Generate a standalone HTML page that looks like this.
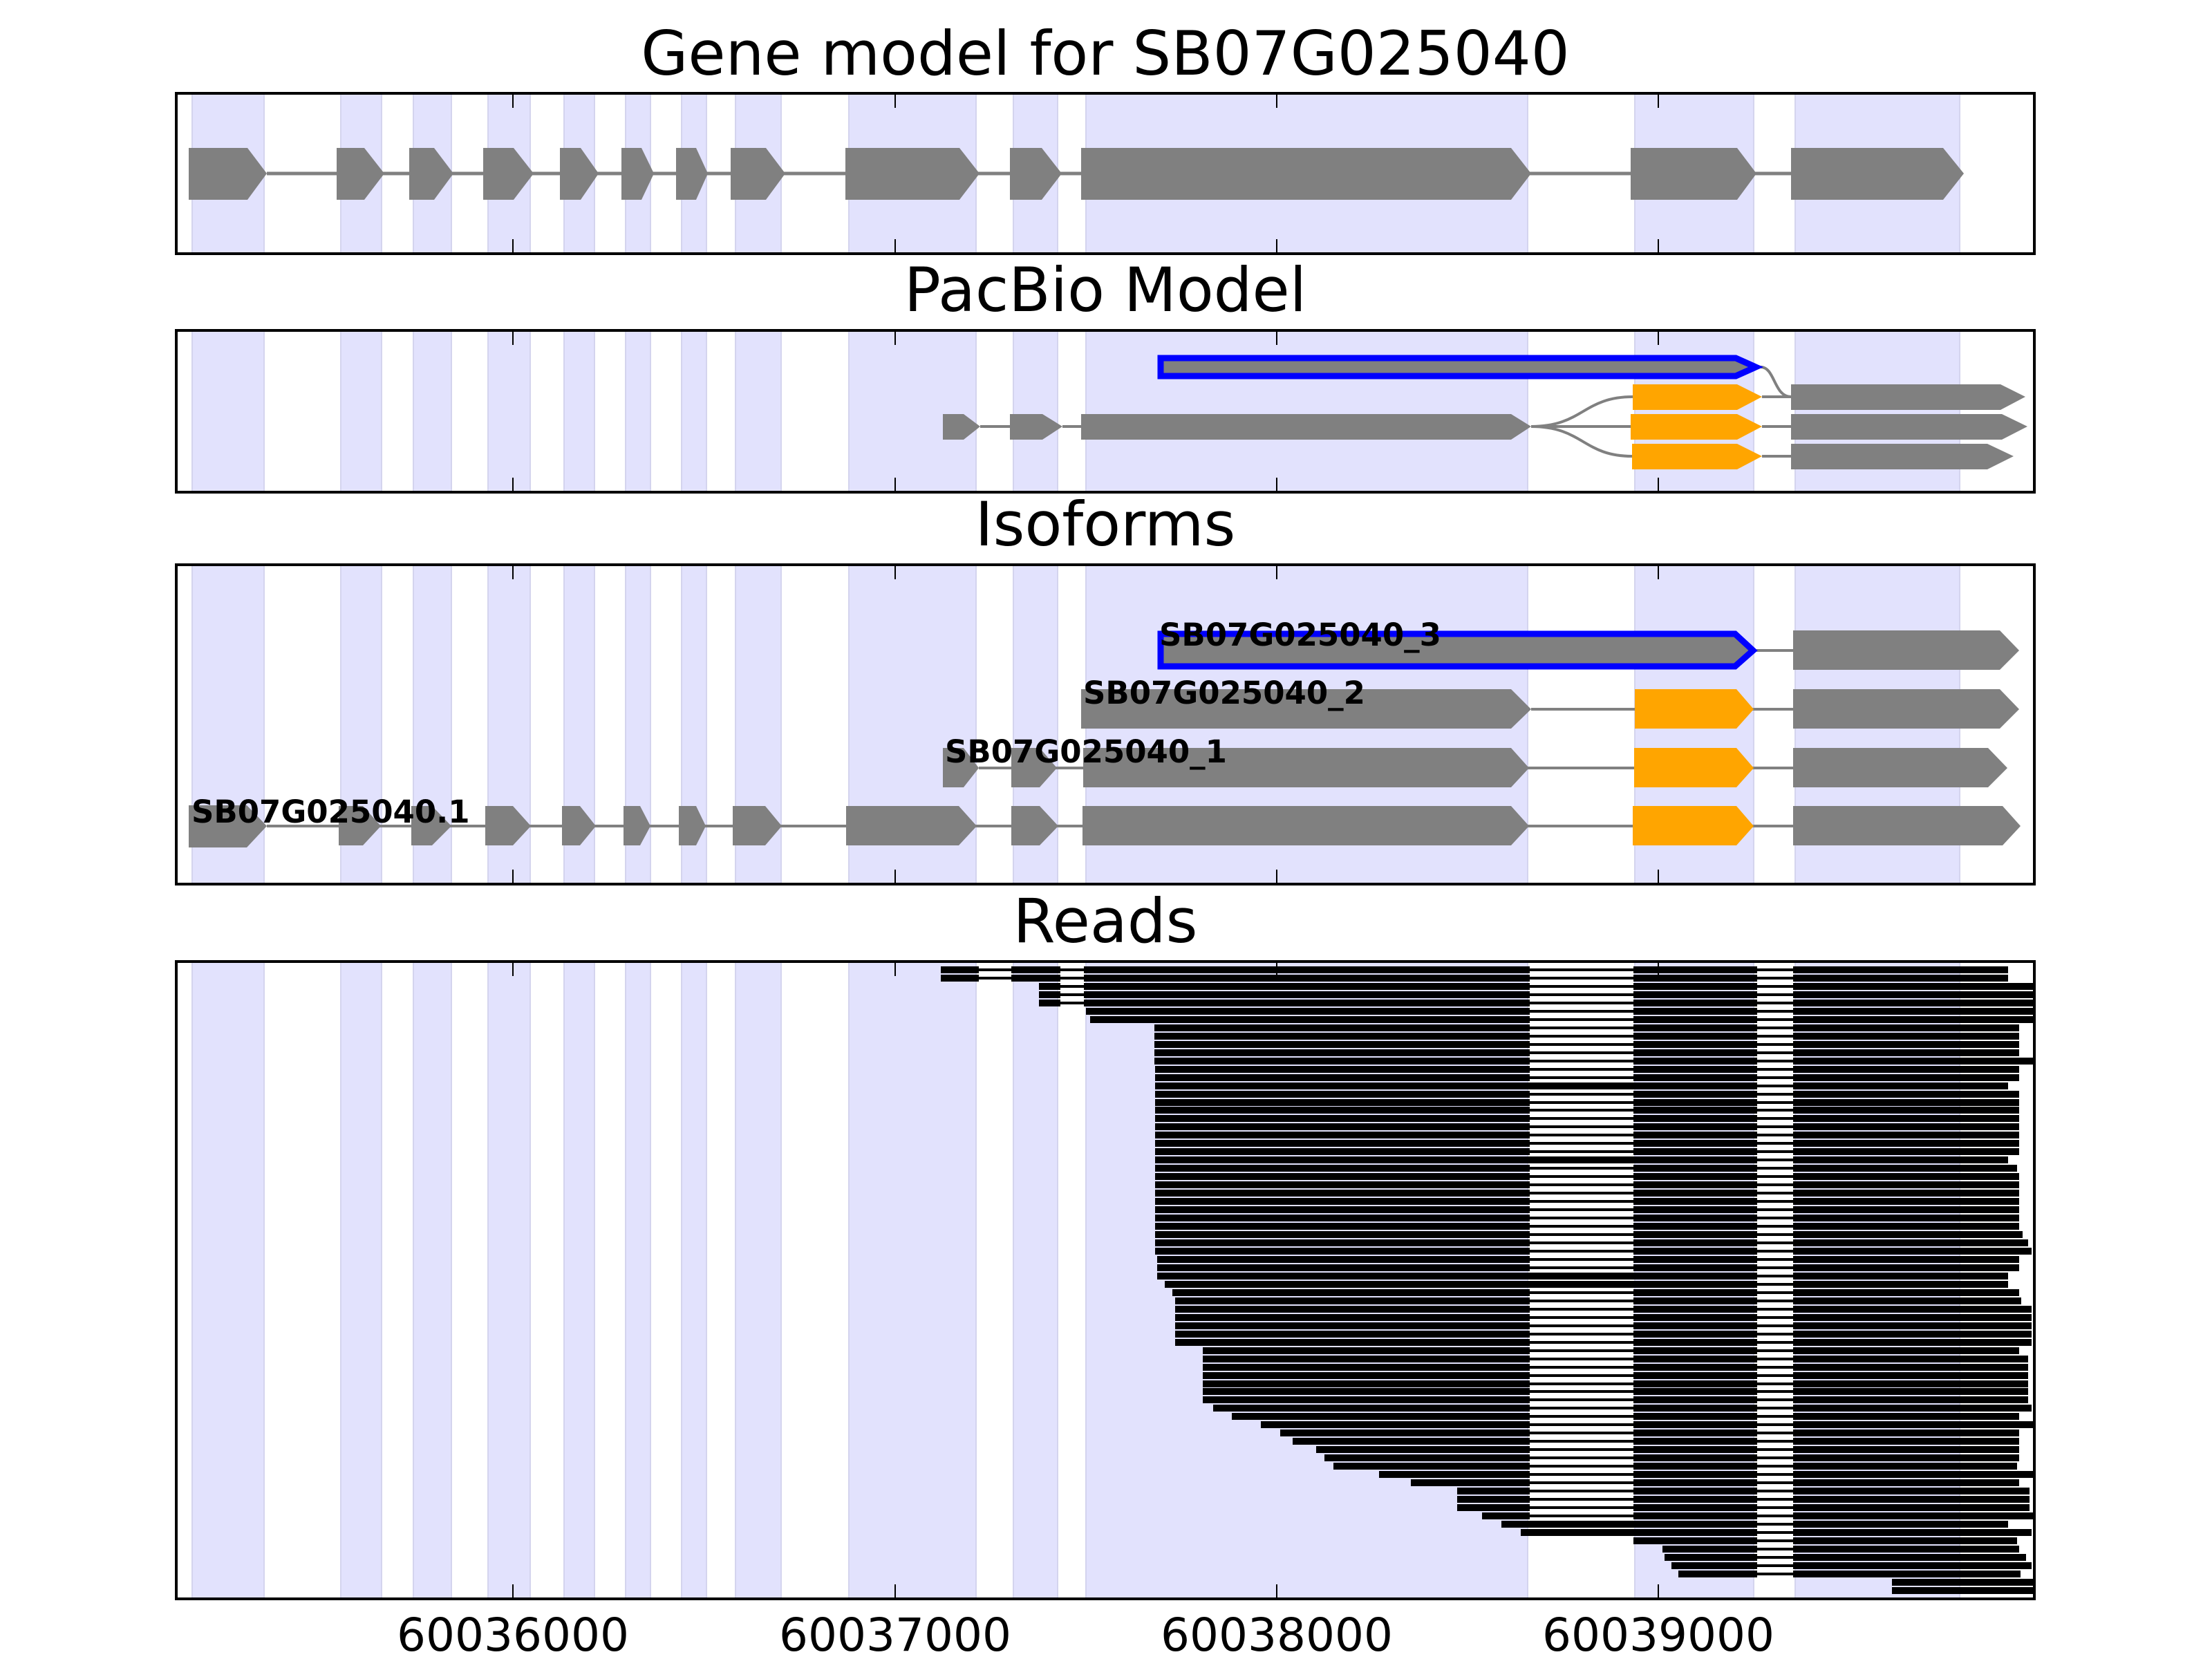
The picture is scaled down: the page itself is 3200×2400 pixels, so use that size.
<!DOCTYPE html>
<html><head><meta charset="utf-8"><style>html,body{margin:0;padding:0;background:#fff}svg{display:block}</style></head>
<body>
<svg width="3200" height="2400" viewBox="0 0 3200 2400" xmlns="http://www.w3.org/2000/svg">
<defs>
<g id="bands" fill="#e2e2fd" stroke="#d4d4ee" stroke-width="2">
<rect x="278" y="0" width="104" height="1000"/><rect x="493" y="0" width="59" height="1000"/>
<rect x="598" y="0" width="55" height="1000"/><rect x="706" y="0" width="61" height="1000"/>
<rect x="816" y="0" width="44" height="1000"/><rect x="905" y="0" width="36" height="1000"/>
<rect x="986" y="0" width="36" height="1000"/><rect x="1064" y="0" width="66" height="1000"/>
<rect x="1228" y="0" width="184" height="1000"/><rect x="1466" y="0" width="64" height="1000"/>
<rect x="1571" y="0" width="639" height="1000"/><rect x="2365" y="0" width="172" height="1000"/>
<rect x="2597" y="0" width="238" height="1000"/>
</g>
<g id="ticks" stroke="#000" stroke-width="2">
<path d="M742 0v21M1295 0v21M1847 0v21M2399 0v21"/>
</g>
<clipPath id="c1"><rect x="255" y="135" width="2688" height="232"/></clipPath>
<clipPath id="c2"><rect x="255" y="482" width="2688" height="234"/></clipPath>
<clipPath id="c3"><rect x="255" y="817" width="2688" height="462"/></clipPath>
<clipPath id="c4"><rect x="255" y="1391" width="2688" height="922"/></clipPath>
</defs>

<g font-family="'DejaVu Sans','Liberation Sans',sans-serif" font-size="88" text-anchor="middle" fill="#000">
<text x="1599" y="108">Gene model for SB07G025040</text>
<text x="1599" y="450">PacBio Model</text>
<text x="1599" y="789">Isoforms</text>
<text x="1599" y="1363">Reads</text>
</g>

<!-- Panel 1 -->
<g clip-path="url(#c1)">
<g transform="translate(0,135) scale(1,0.232)"><use href="#bands"/></g>
<path d="M386 251H2591" stroke="#808080" stroke-width="5"/>
<g fill="#808080">
<path d="M273 214H358L386 251L358 289H273Z"/>
<path d="M487 214H527L556 251L527 289H487Z"/>
<path d="M592 214H628L656 251L628 289H592Z"/>
<path d="M699 214H743L772 251L743 289H699Z"/>
<path d="M810 214H840L866 251L840 289H810Z"/>
<path d="M899 214H928L946 251L928 289H899Z"/>
<path d="M978 214H1007L1024 251L1007 289H978Z"/>
<path d="M1057 214H1108L1136 251L1108 289H1057Z"/>
<path d="M1223 214H1388L1417 251L1388 289H1223Z"/>
<path d="M1461 214H1507L1536 251L1507 289H1461Z"/>
<path d="M1564 214H2186L2215 251L2186 289H1564Z"/>
<path d="M2359 214H2513L2541 251L2513 289H2359Z"/>
<path d="M2591 214H2811L2841 251L2811 289H2591Z"/>
</g>
<g transform="translate(0,135)"><use href="#ticks"/></g>
<g transform="translate(0,367) scale(1,-1)"><use href="#ticks"/></g>
</g>
<rect x="255" y="135" width="2688" height="232" fill="none" stroke="#000" stroke-width="4"/>

<!-- Panel 2 -->
<g transform="translate(0,-4)">
<g clip-path="url(#c2)">
<g transform="translate(0,482) scale(1,0.234)"><use href="#bands"/></g>
<g fill="none" stroke="#808080" stroke-width="4">
<path d="M1418 621H1461M1537 621H1564M2215 621H2359"/>
<path d="M2215 621C2290 621 2290 578 2362 578"/>
<path d="M2215 621C2290 621 2290 664 2361 664"/>
<path d="M2547 535C2568 535 2566 578 2591 578"/>
<path d="M2549 578H2591M2549 621H2591M2549 664H2591"/>
</g>
<g fill="#808080">
<path d="M1364 603H1394L1418 621L1394 640H1364Z"/>
<path d="M1461 603H1508L1537 621L1508 640H1461Z"/>
<path d="M1564 603H2186L2215 621L2186 640H1564Z"/>
<path d="M2591 560H2894L2930 578L2894 597H2591Z"/>
<path d="M2591 603H2896L2933 621L2896 640H2591Z"/>
<path d="M2591 646H2875L2913 664L2875 683H2591Z"/>
</g>
<g fill="#ffa500">
<path d="M2362 560H2513L2549 578L2513 597H2362Z"/>
<path d="M2359 603H2513L2549 621L2513 640H2359Z"/>
<path d="M2361 646H2513L2549 664L2513 683H2361Z"/>
</g>
<path d="M1679 522H2511L2540 535L2511 548H1679Z" fill="#808080" stroke="#0000ff" stroke-width="9"/>
<g transform="translate(0,482)"><use href="#ticks"/></g>
<g transform="translate(0,716) scale(1,-1)"><use href="#ticks"/></g>
</g>
<rect x="255" y="482" width="2688" height="234" fill="none" stroke="#000" stroke-width="4"/>
</g>

<!-- Panel 3 -->
<g clip-path="url(#c3)">
<g transform="translate(0,817) scale(1,0.462)"><use href="#bands"/></g>
<g stroke="#808080" stroke-width="4">
<path d="M386 1195H2594M1416 1111H2594M2215 1026H2594M2541 941H2594"/>
</g>
<g fill="#808080">
<path d="M273 1165H357L386 1195L357 1226H273Z"/>
<path d="M490 1166H525L551 1195L525 1223H490Z"/>
<path d="M595 1166H625L653 1195L625 1223H595Z"/>
<path d="M702 1166H742L768 1195L742 1223H702Z"/>
<path d="M813 1166H839L862 1195L839 1223H813Z"/>
<path d="M902 1166H926L941 1195L926 1223H902Z"/>
<path d="M982 1166H1007L1021 1195L1007 1223H982Z"/>
<path d="M1060 1166H1107L1131 1195L1107 1223H1060Z"/>
<path d="M1224 1166H1387L1413 1195L1387 1223H1224Z"/>
<path d="M1463 1166H1504L1531 1195L1504 1223H1463Z"/>
<path d="M1566 1166H2186L2212 1195L2186 1223H1566Z"/>
<path d="M2594 1166H2897L2923 1195L2897 1223H2594Z"/>
<path d="M1364 1082H1394L1416 1111L1394 1139H1364Z"/>
<path d="M1463 1082H1504L1529 1111L1504 1139H1463Z"/>
<path d="M1567 1082H2186L2212 1111L2186 1139H1567Z"/>
<path d="M2594 1082H2876L2904 1111L2876 1139H2594Z"/>
<path d="M1564 997H2186L2215 1026L2186 1054H1564Z"/>
<path d="M2594 997H2893L2921 1026L2893 1054H2594Z"/>
<path d="M2594 912H2893L2921 941L2893 969H2594Z"/>
</g>
<g fill="#ffa500">
<path d="M2362 1166H2512L2537 1195L2512 1223H2362Z"/>
<path d="M2364 1082H2512L2537 1111L2512 1139H2364Z"/>
<path d="M2365 997H2512L2537 1026L2512 1054H2365Z"/>
</g>
<path d="M1679 917H2510L2536 941L2510 964H1679Z" fill="#808080" stroke="#0000ff" stroke-width="9"/>
<g font-family="'DejaVu Sans','Liberation Sans',sans-serif" font-weight="bold" font-size="45" fill="#000">
<text x="277" y="1190">SB07G025040.1</text>
<text x="1367" y="1103">SB07G025040_1</text>
<text x="1567" y="1018">SB07G025040_2</text>
<text x="1677" y="934">SB07G025040_3</text>
</g>
<g transform="translate(0,817)"><use href="#ticks"/></g>
<g transform="translate(0,1279) scale(1,-1)"><use href="#ticks"/></g>
</g>
<rect x="255" y="817" width="2688" height="462" fill="none" stroke="#000" stroke-width="4"/>

<!-- Panel 4 Reads -->
<g clip-path="url(#c4)">
<g transform="translate(0,1391) scale(1,0.922)"><use href="#bands"/></g>
<path fill="none" stroke="#000" stroke-width="4" d="
M1361 1403H2905M1361 1415H2905M1503 1427H2942M1503 1439H2942M1503 1451H2942M1571 1463H2942M1577 1475H2942
M1670 1487H2921M1670 1499H2921M1670 1511H2921M1670 1523H2921M1670 1535H2942M1671 1547H2921M1671 1559H2921
M1671 1583H2921M1671 1595H2921M1671 1606H2921M1671 1618H2921M1671 1630H2921M1671 1642H2921M1671 1654H2921M1671 1666H2921
M1671 1690H2918M1671 1702H2921M1671 1714H2921M1671 1726H2921M1671 1738H2921M1671 1750H2921M1671 1762H2921M1671 1774H2921
M1671 1786H2926M1671 1798H2934M1671 1810H2939M1674 1822H2921M1674 1834H2921
M1696 1870H2921M1700 1882H2924M1700 1894H2939M1700 1906H2939M1700 1918H2939M1700 1930H2939M1700 1942H2939
M1740 1954H2921M1740 1966H2934M1740 1978H2934M1740 1990H2934M1740 2002H2934M1740 2013H2934M1740 2025H2934
M1755 2037H2939M1782 2049H2921M1824 2061H2942M1852 2073H2921M1870 2085H2921M1904 2097H2921M1916 2109H2921M1929 2121H2918
M1995 2133H2942M2041 2145H2921M2108 2157H2936M2108 2169H2936M2108 2181H2936M2144 2193H2942
M2363 2229H2918M2405 2241H2921M2408 2253H2931M2418 2265H2939M2428 2277H2923
M1671 1571H2905M1671 1678H2905M1674 1846H2905M1685 1858H2905M2172 2205H2905M2200 2217H2939"/>
<path fill="none" stroke="#000" stroke-width="10" d="
M1361 1403H1416M1463 1403H1534M1568 1403H2213M2363 1403H2542M2594 1403H2905
M1361 1415H1416M1463 1415H1534M1568 1415H2213M2363 1415H2542M2594 1415H2905
M1503 1427H1534M1568 1427H2213M2363 1427H2542M2594 1427H2942
M1503 1439H1534M1568 1439H2213M2363 1439H2542M2594 1439H2942
M1503 1451H1534M1568 1451H2213M2363 1451H2542M2594 1451H2942
M1571 1463H2213M2363 1463H2542M2594 1463H2942
M1577 1475H2213M2363 1475H2542M2594 1475H2942
M1670 1487H2213M2363 1487H2542M2594 1487H2921
M1670 1499H2213M2363 1499H2542M2594 1499H2921
M1670 1511H2213M2363 1511H2542M2594 1511H2921
M1670 1523H2213M2363 1523H2542M2594 1523H2921
M1670 1535H2213M2363 1535H2542M2594 1535H2942
M1671 1547H2213M2363 1547H2542M2594 1547H2921
M1671 1559H2213M2363 1559H2542M2594 1559H2921
M1671 1571H2542M2594 1571H2905
M1671 1583H2213M2363 1583H2542M2594 1583H2921
M1671 1595H2213M2363 1595H2542M2594 1595H2921
M1671 1606H2213M2363 1606H2542M2594 1606H2921
M1671 1618H2213M2363 1618H2542M2594 1618H2921
M1671 1630H2213M2363 1630H2542M2594 1630H2921
M1671 1642H2213M2363 1642H2542M2594 1642H2921
M1671 1654H2213M2363 1654H2542M2594 1654H2921
M1671 1666H2213M2363 1666H2542M2594 1666H2921
M1671 1678H2542M2594 1678H2905
M1671 1690H2213M2363 1690H2542M2594 1690H2918
M1671 1702H2213M2363 1702H2542M2594 1702H2921
M1671 1714H2213M2363 1714H2542M2594 1714H2921
M1671 1726H2213M2363 1726H2542M2594 1726H2921
M1671 1738H2213M2363 1738H2542M2594 1738H2921
M1671 1750H2213M2363 1750H2542M2594 1750H2921
M1671 1762H2213M2363 1762H2542M2594 1762H2921
M1671 1774H2213M2363 1774H2542M2594 1774H2921
M1671 1786H2213M2363 1786H2542M2594 1786H2926
M1671 1798H2213M2363 1798H2542M2594 1798H2934
M1671 1810H2213M2363 1810H2542M2594 1810H2939
M1674 1822H2213M2363 1822H2542M2594 1822H2921
M1674 1834H2213M2363 1834H2542M2594 1834H2921
M1674 1846H2542M2594 1846H2905
M1685 1858H2542M2594 1858H2905
M1696 1870H2213M2363 1870H2542M2594 1870H2921
M1700 1882H2213M2363 1882H2542M2594 1882H2924
M1700 1894H2213M2363 1894H2542M2594 1894H2939
M1700 1906H2213M2363 1906H2542M2594 1906H2939
M1700 1918H2213M2363 1918H2542M2594 1918H2939
M1700 1930H2213M2363 1930H2542M2594 1930H2939
M1700 1942H2213M2363 1942H2542M2594 1942H2939
M1740 1954H2213M2363 1954H2542M2594 1954H2921
M1740 1966H2213M2363 1966H2542M2594 1966H2934
M1740 1978H2213M2363 1978H2542M2594 1978H2934
M1740 1990H2213M2363 1990H2542M2594 1990H2934
M1740 2002H2213M2363 2002H2542M2594 2002H2934
M1740 2013H2213M2363 2013H2542M2594 2013H2934
M1740 2025H2213M2363 2025H2542M2594 2025H2934
M1755 2037H2213M2363 2037H2542M2594 2037H2939
M1782 2049H2213M2363 2049H2542M2594 2049H2921
M1824 2061H2213M2363 2061H2542M2594 2061H2942
M1852 2073H2213M2363 2073H2542M2594 2073H2921
M1870 2085H2213M2363 2085H2542M2594 2085H2921
M1904 2097H2213M2363 2097H2542M2594 2097H2921
M1916 2109H2213M2363 2109H2542M2594 2109H2921
M1929 2121H2213M2363 2121H2542M2594 2121H2918
M1995 2133H2213M2363 2133H2542M2594 2133H2942
M2041 2145H2213M2363 2145H2542M2594 2145H2921
M2108 2157H2213M2363 2157H2542M2594 2157H2936
M2108 2169H2213M2363 2169H2542M2594 2169H2936
M2108 2181H2213M2363 2181H2542M2594 2181H2936
M2144 2193H2213M2363 2193H2542M2594 2193H2942
M2172 2205H2542M2594 2205H2905
M2200 2217H2542M2594 2217H2939
M2363 2229H2542M2594 2229H2918
M2405 2241H2542M2594 2241H2921
M2408 2253H2542M2594 2253H2931
M2418 2265H2542M2594 2265H2939
M2428 2277H2542M2594 2277H2923
M2737 2289H2942
M2737 2301H2942"/>
<g transform="translate(0,1391)"><use href="#ticks"/></g>
<g transform="translate(0,2313) scale(1,-1)"><use href="#ticks"/></g>
</g>
<rect x="255" y="1391" width="2688" height="922" fill="none" stroke="#000" stroke-width="4"/>

<g font-family="'DejaVu Sans','Liberation Sans',sans-serif" font-size="66" text-anchor="middle" fill="#000">
<text x="742" y="2388">60036000</text>
<text x="1295" y="2388">60037000</text>
<text x="1847" y="2388">60038000</text>
<text x="2399" y="2388">60039000</text>
</g>
</svg>
</body></html>
